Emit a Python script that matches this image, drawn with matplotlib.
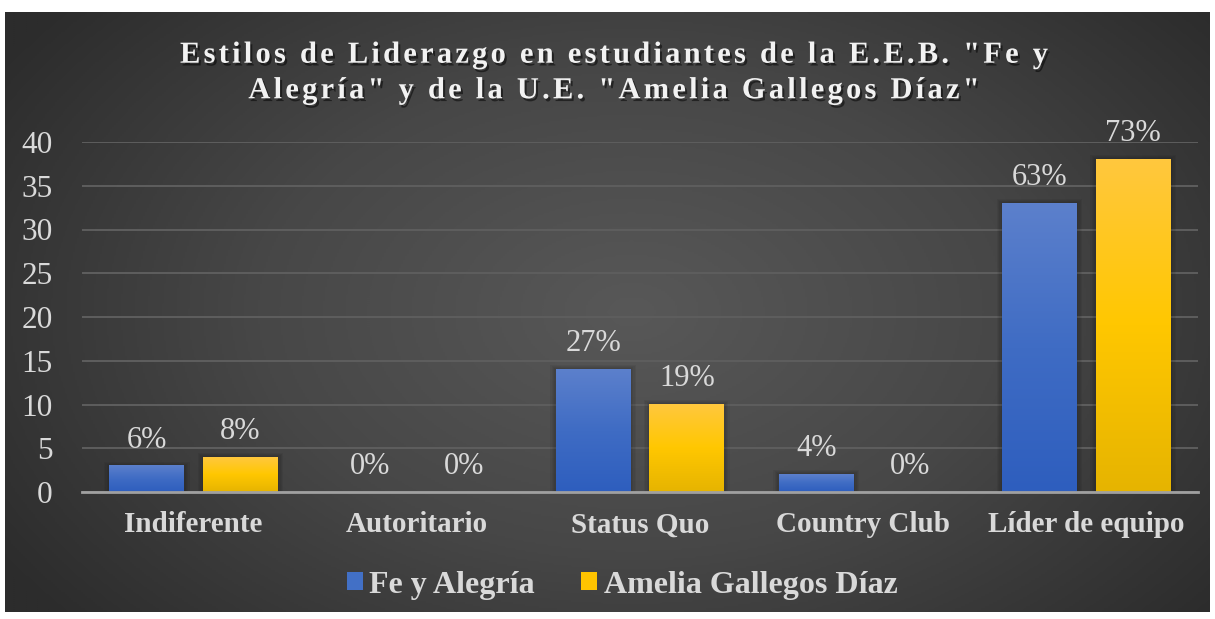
import numpy as np
import matplotlib
matplotlib.use("Agg")
import matplotlib.pyplot as plt
import matplotlib.patheffects as pe
from matplotlib.patches import Patch, Rectangle
from matplotlib.font_manager import FontProperties, findfont, get_font
from matplotlib.colors import LinearSegmentedColormap

categorias = ["Indiferente", "Autoritario", "Status Quo", "Country Club", "Líder de equipo"]
fe_alegria = [3, 0, 14, 2, 33]
amelia = [4, 0, 10, 0, 38]
etiq_fe = ["6%", "0%", "27%", "4%", "63%"]
etiq_amelia = ["8%", "0%", "19%", "0%", "73%"]
series = ["Fe y Alegría", "Amelia Gallegos Díaz"]
titulo = ['Estilos de Liderazgo en estudiantes de la E.E.B. "Fe y',
          'Alegría" y de la U.E. "Amelia Gallegos Díaz"']

W, H = 1215, 619
DPI = 100
SERIF = "Liberation Serif"
TXT = "#d9d9d9"

fig = plt.figure(figsize=(W / DPI, H / DPI), dpi=DPI, facecolor="white")

# fondo con degradado radial
bg = fig.add_axes([5 / W, 7 / H, 1205 / W, 600 / H])
bg.set_axis_off()
yy, xx = np.mgrid[0:1:300j, 0:1:600j]
r = np.sqrt(((xx - 0.52) / 0.62) ** 2 + ((yy - 0.5) / 0.8) ** 2)
r = np.clip(r, 0, 1)
cmap_bg = LinearSegmentedColormap.from_list("bg", ["#585858", "#474747", "#2c2c2c"])
bg.imshow(r, cmap=cmap_bg, aspect="auto", extent=[0, 1, 0, 1], vmin=0, vmax=1)

ax = fig.add_axes([82 / W, 127 / H, 1116 / W, 350 / H])
ax.set_facecolor("none")
x = np.arange(len(categorias))
ancho = 0.336
desp = 0.21

cmap_azul = LinearSegmentedColormap.from_list("az", ["#2e5ebe", "#3f6cc4", "#5c80cc"])
cmap_amar = LinearSegmentedColormap.from_list("am", ["#e6b400", "#ffc700", "#ffc83e"])
grad = np.linspace(0, 1, 256).reshape(-1, 1)

def barras(pos, vals, cmap, etiquetas):
    for xi, v, lab in zip(pos, vals, etiquetas):
        x0 = xi - ancho / 2
        if v > 0:
            # sombra suave
            for k in range(1, 5):
                e = 0.006 * k
                ax.add_patch(Rectangle((x0 - e, 0), ancho + 2 * e, v + 0.12 * k,
                                       facecolor="black", alpha=0.05, lw=0, zorder=2))
            ax.imshow(grad, cmap=cmap, origin="lower", aspect="auto",
                      extent=[x0, x0 + ancho, 0, v], zorder=3, vmin=0, vmax=1)
        ax.annotate(lab, (xi, v), xytext=(0, 8), textcoords="offset points",
                    ha="center", va="bottom", fontsize=22, color=TXT,
                    family=SERIF, zorder=5)

barras(x - desp, fe_alegria, cmap_azul, etiq_fe)
barras(x + desp, amelia, cmap_amar, etiq_amelia)

ax.set_xlim(-0.5, len(categorias) - 0.5)
ax.set_ylim(0, 40)
ax.set_yticks(range(0, 41, 5))
ax.yaxis.grid(True, color="#5e5e5e", lw=1.4, zorder=0)
ax.set_axisbelow(True)
for s in ["top", "right", "left"]:
    ax.spines[s].set_visible(False)
ax.spines["bottom"].set_color("#a0a0a0")
ax.spines["bottom"].set_linewidth(2)
ax.spines["bottom"].set_zorder(4)
ax.set_xticks(x)
ax.set_xticklabels(categorias, fontsize=21, fontweight="bold", color=TXT, family=SERIF)
ax.tick_params(axis="x", length=0, pad=14)
ax.tick_params(axis="y", length=0, pad=21, labelsize=22.5, labelcolor=TXT)
for t in ax.get_yticklabels():
    t.set_family(SERIF)

# leyenda
handles = [Patch(facecolor="#4270c6", edgecolor="none"),
           Patch(facecolor="#ffc400", edgecolor="none")]
leg = fig.legend(handles, series, loc="center", bbox_to_anchor=(0.512, 34 / H),
                 ncol=2, frameon=False, handlelength=0.5, handleheight=0.5,
                 handletextpad=0.2, columnspacing=1.45,
                 prop=FontProperties(family=SERIF, weight="bold", size=23))
for t in leg.get_texts():
    t.set_color(TXT)

# título con espaciado entre letras
fp_t = FontProperties(family=SERIF, weight="bold", size=22)
ft = get_font(findfont(fp_t))
ft.set_size(22, DPI)

def avances(s):
    return [ft.load_char(ord(c)).linearHoriAdvance / 65536 for c in s]

adv1 = avances(titulo[0])
track = (868 - sum(adv1)) / (len(titulo[0]) - 1)
sombra = [pe.withSimplePatchShadow(offset=(1.5, -2), shadow_rgbFace="black", alpha=0.5)]

def titulo_linea(s, xc, yb):
    adv = avances(s)
    total = sum(adv) + track * (len(s) - 1)
    xp = xc - total / 2
    for c, a in zip(s, adv):
        if c != " ":
            fig.text(xp / W, 1 - yb / H, c, fontproperties=fp_t, color="#f2f2f2",
                     ha="left", va="baseline", path_effects=sombra)
        xp += a + track

titulo_linea(titulo[0], 614, 62.7)
titulo_linea(titulo[1], 614, 98.3)

fig.savefig("out.png", dpi=DPI, facecolor="white")
